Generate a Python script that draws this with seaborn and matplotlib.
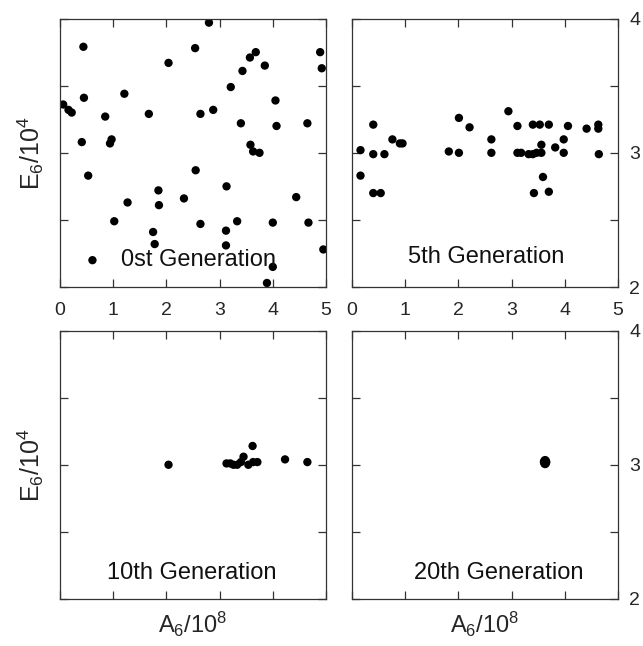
import numpy as np
import pandas as pd
import matplotlib
matplotlib.use("Agg")
import matplotlib.pyplot as plt
import seaborn as sns

# Population of (A6, E6) individuals at successive generations
gen0_a = [0.44, 2.80, 2.54, 2.04, 3.68, 3.57, 3.43, 3.85, 4.89, 4.92,
          3.21, 0.45, 1.21, 0.06, 0.16, 0.22, 0.85, 1.67, 2.64, 2.88,
          4.05, 3.40, 4.07, 4.65, 0.41, 0.97, 0.94, 3.58, 3.63, 3.75,
          0.53, 2.55, 3.13, 1.85, 1.86, 1.27, 2.33, 4.44, 1.02, 2.64,
          3.33, 4.00, 4.67, 1.75, 1.78, 3.12, 3.12, 4.95, 0.61, 4.00,
          3.89]
gen0_e = [3.79, 3.97, 3.78, 3.67, 3.75, 3.71, 3.61, 3.65, 3.75, 3.63,
          3.49, 3.41, 3.44, 3.36, 3.32, 3.30, 3.27, 3.29, 3.29, 3.32,
          3.39, 3.22, 3.20, 3.22, 3.08, 3.10, 3.07, 3.06, 3.01, 3.00,
          2.83, 2.87, 2.75, 2.72, 2.61, 2.63, 2.66, 2.67, 2.49, 2.47,
          2.49, 2.48, 2.48, 2.41, 2.32, 2.42, 2.31, 2.28, 2.20, 2.15,
          2.03]

gen5_a = [0.16, 0.16, 0.40, 0.40, 0.61, 0.40, 0.54, 0.76, 0.90, 0.95,
          1.82, 2.01, 2.01, 2.21, 2.62, 2.62, 2.94, 3.11, 3.11, 3.18,
          3.32, 3.40, 3.40, 3.53, 3.70, 3.56, 3.56, 3.59, 3.42, 3.70,
          3.82, 3.98, 3.98, 4.06, 4.41, 4.63, 4.63, 4.64, 3.47]
gen5_e = [3.02, 2.83, 3.21, 2.99, 2.99, 2.70, 2.70, 3.10, 3.07, 3.07,
          3.01, 3.00, 3.26, 3.19, 3.10, 3.00, 3.31, 3.20, 3.00, 3.00,
          2.99, 2.99, 3.21, 3.21, 3.21, 3.06, 3.00, 2.82, 2.70, 2.71,
          3.04, 3.10, 3.00, 3.20, 3.18, 3.21, 3.18, 2.99, 3.00]

gen10_a = [2.04, 3.13, 3.20, 3.26, 3.33, 3.40, 3.45, 3.54, 3.62, 3.63,
           3.71, 4.23, 4.65]
gen10_e = [3.00, 3.01, 3.01, 3.00, 3.00, 3.02, 3.06, 3.00, 3.14, 3.02,
           3.02, 3.04, 3.02]

gen20_a = [3.62, 3.63, 3.64, 3.63]
gen20_e = [3.02, 3.03, 3.02, 3.01]

titles = ["0st Generation", "5th Generation", "10th Generation", "20th Generation"]
x_ticks = [0, 1, 2, 3, 4, 5]
y_ticks = [2, 2.5, 3, 3.5, 4]
y_tick_labels = ["2", "", "3", "", "4"]

frames = []
for name, a, e in zip(titles, [gen0_a, gen5_a, gen10_a, gen20_a],
                      [gen0_e, gen5_e, gen10_e, gen20_e]):
    frames.append(pd.DataFrame({"A": a, "E": e, "gen": name}))
df = pd.concat(frames, ignore_index=True)

sns.set_style("white")
plt.rcParams["font.family"] = ["Liberation Sans", "DejaVu Sans"]
plt.rcParams["mathtext.fontset"] = "custom"
plt.rcParams["mathtext.rm"] = "Liberation Sans"
plt.rcParams["mathtext.it"] = "Liberation Sans"

fig = plt.figure(figsize=(6.43, 6.46), dpi=100)
w, h = 0.4137, 0.4155
positions = [
    (0.0933, 0.5557, w, h),
    (0.5474, 0.5557, w, h),
    (0.0933, 0.0728, w, h),
    (0.5474, 0.0728, w, h),
]
label_pos = [(2.6, 2.20), (2.52, 2.22), (2.48, 2.19), (2.76, 2.19)]
sizes = [36, 36, 36, 48]

for i, (pos, name) in enumerate(zip(positions, titles)):
    ax = fig.add_axes(pos)
    sub = df[df["gen"] == name]
    sns.scatterplot(data=sub, x="A", y="E", ax=ax, color="black",
                    s=sizes[i], edgecolor="none", linewidth=0, legend=False)
    ax.set_xlim(0, 5)
    ax.set_ylim(2, 4)
    ax.set_xticks(x_ticks)
    ax.set_yticks(y_ticks)
    ax.set_yticklabels(y_tick_labels)
    for sp in ax.spines.values():
        sp.set_color("#333333")
        sp.set_linewidth(0.9)
    ax.tick_params(axis="both", direction="in", length=6, width=0.9,
                   color="#333333", top=True, bottom=True, left=True,
                   right=True, labelsize=14)
    top_row = i < 2
    right_col = i % 2 == 1
    ax.tick_params(axis="x", labelbottom=top_row, labeltop=False, pad=11)
    ax.tick_params(axis="y", labelleft=False, labelright=right_col, pad=8)
    ax.set_xlabel("")
    ax.set_ylabel("")
    if not right_col:
        ax.set_ylabel(r"$\mathregular{E_6/10^4}$", fontsize=18, labelpad=10)
    if not top_row:
        ax.set_xlabel(r"$\mathregular{A_6/10^8}$", fontsize=17, labelpad=8)
    tx, ty = label_pos[i]
    ax.text(tx, ty, name, ha="center", va="center", fontsize=17,
            color="#111111")

fig.savefig("out.png", dpi=100)
